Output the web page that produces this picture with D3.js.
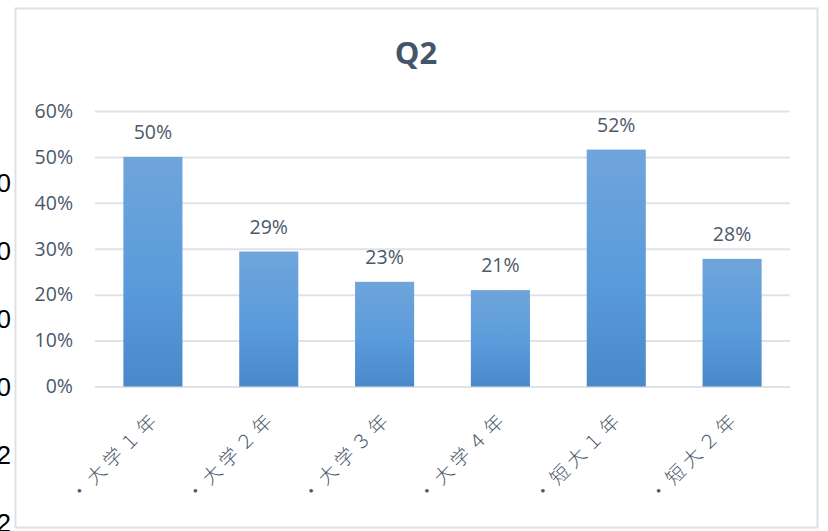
<!DOCTYPE html>
<html>
<head>
<meta charset="utf-8">
<script src="https://cdn.jsdelivr.net/npm/d3@7"></script>
<style>
  html, body { margin: 0; padding: 0; background: #ffffff; }
  svg { display: block; }
</style>
</head>
<body>
<svg id="chart" width="828" height="531"></svg>
<script>
// ---- data ----
const chartTitle = "Q2";
const categories = ["・大学１年", "・大学２年", "・大学３年", "・大学４年", "・短大１年", "・短大２年"];
const values = [0.50, 0.294, 0.228, 0.21, 0.516, 0.278];
const yTicks = [0, 0.1, 0.2, 0.3, 0.4, 0.5, 0.6];
const backgroundDigits = ["0", "0", "0", "0", "2", "2"];

// ---- layout ----
const W = 828, H = 531;
const plot = { left: 95, right: 790, top: 111, bottom: 386.5 };
const svg = d3.select("#chart");
const textColor = "#4b586b";
const fontFamily = "'Open Sans', 'Noto Sans', sans-serif";

// partially hidden digits on the far left (outside the chart frame)
const bgY = d3.scalePoint().domain(d3.range(backgroundDigits.length)).range([183, 523]);
svg.append("g").selectAll("text").data(backgroundDigits).join("text")
  .attr("x", 11)
  .attr("y", (d, i) => bgY(i))
  .attr("dy", "0.36em")
  .attr("text-anchor", "end")
  .attr("font-family", "'Liberation Sans', sans-serif")
  .attr("font-size", 26)
  .attr("fill", "#000")
  .text(d => d);

// chart frame
svg.append("rect")
  .attr("x", 15.5).attr("y", 8.5)
  .attr("width", 802).attr("height", 519)
  .attr("fill", "#fff")
  .attr("stroke", "#dde1e6")
  .attr("stroke-width", 2);

const x = d3.scaleBand().domain(categories).range([plot.left, plot.right]).paddingInner(0.49).paddingOuter(0.245);
const y = d3.scaleLinear().domain([0, 0.6]).range([plot.bottom, plot.top]);

// gradient for bars
const defs = svg.append("defs");
const grad = defs.append("linearGradient").attr("id", "barGrad")
  .attr("x1", 0).attr("y1", 0).attr("x2", 0).attr("y2", 1);
grad.append("stop").attr("offset", "0%").attr("stop-color", "#6fa5db");
grad.append("stop").attr("offset", "55%").attr("stop-color", "#5a9bdb");
grad.append("stop").attr("offset", "100%").attr("stop-color", "#4a89c9");

// gridlines
const yAxis = d3.axisLeft(y).tickValues(yTicks).tickFormat(d3.format(".0%"))
  .tickSize(-(plot.right - plot.left)).tickPadding(22);
const gy = svg.append("g").attr("transform", `translate(${plot.left},0)`).call(yAxis);
gy.select(".domain").remove();
gy.selectAll(".tick line").attr("stroke", "#dfe3e8").attr("stroke-width", 2);
gy.selectAll(".tick text")
  .attr("font-family", fontFamily).attr("font-size", 19.5).attr("fill", textColor);

// bars
svg.append("g").selectAll("rect").data(values).join("rect")
  .attr("x", (d, i) => x(categories[i]))
  .attr("y", d => y(d))
  .attr("width", x.bandwidth())
  .attr("height", d => y(0) - y(d))
  .attr("fill", "url(#barGrad)");

// data labels
svg.append("g").selectAll("text").data(values).join("text")
  .attr("x", (d, i) => x(categories[i]) + x.bandwidth() / 2)
  .attr("y", d => y(d) - 18)
  .attr("text-anchor", "middle")
  .attr("font-family", fontFamily).attr("font-size", 19.5).attr("fill", textColor)
  .text(d => d3.format(".0%")(d));

// x axis category labels, rotated
const xAxis = d3.axisBottom(x).tickSize(0).tickPadding(0);
const gx = svg.append("g").attr("transform", `translate(0,${plot.bottom})`).call(xAxis);
gx.select(".domain").remove();
gx.selectAll(".tick text")
  .attr("font-family", "'Noto Sans CJK JP', 'Noto Sans CJK SC', sans-serif")
  .attr("font-size", 19)
  .attr("font-weight", 300)
  .attr("letter-spacing", "4.5px")
  .attr("fill", textColor)
  .attr("text-anchor", "end")
  .attr("dy", 0)
  .attr("y", 0)
  .attr("transform", "translate(8,33) rotate(-45)");

// title
svg.append("text")
  .attr("x", 416).attr("y", 64)
  .attr("text-anchor", "middle")
  .attr("font-family", fontFamily)
  .attr("font-weight", "bold")
  .attr("font-size", 31)
  .attr("fill", "#44546a")
  .text(chartTitle);
</script>
</body>
</html>
